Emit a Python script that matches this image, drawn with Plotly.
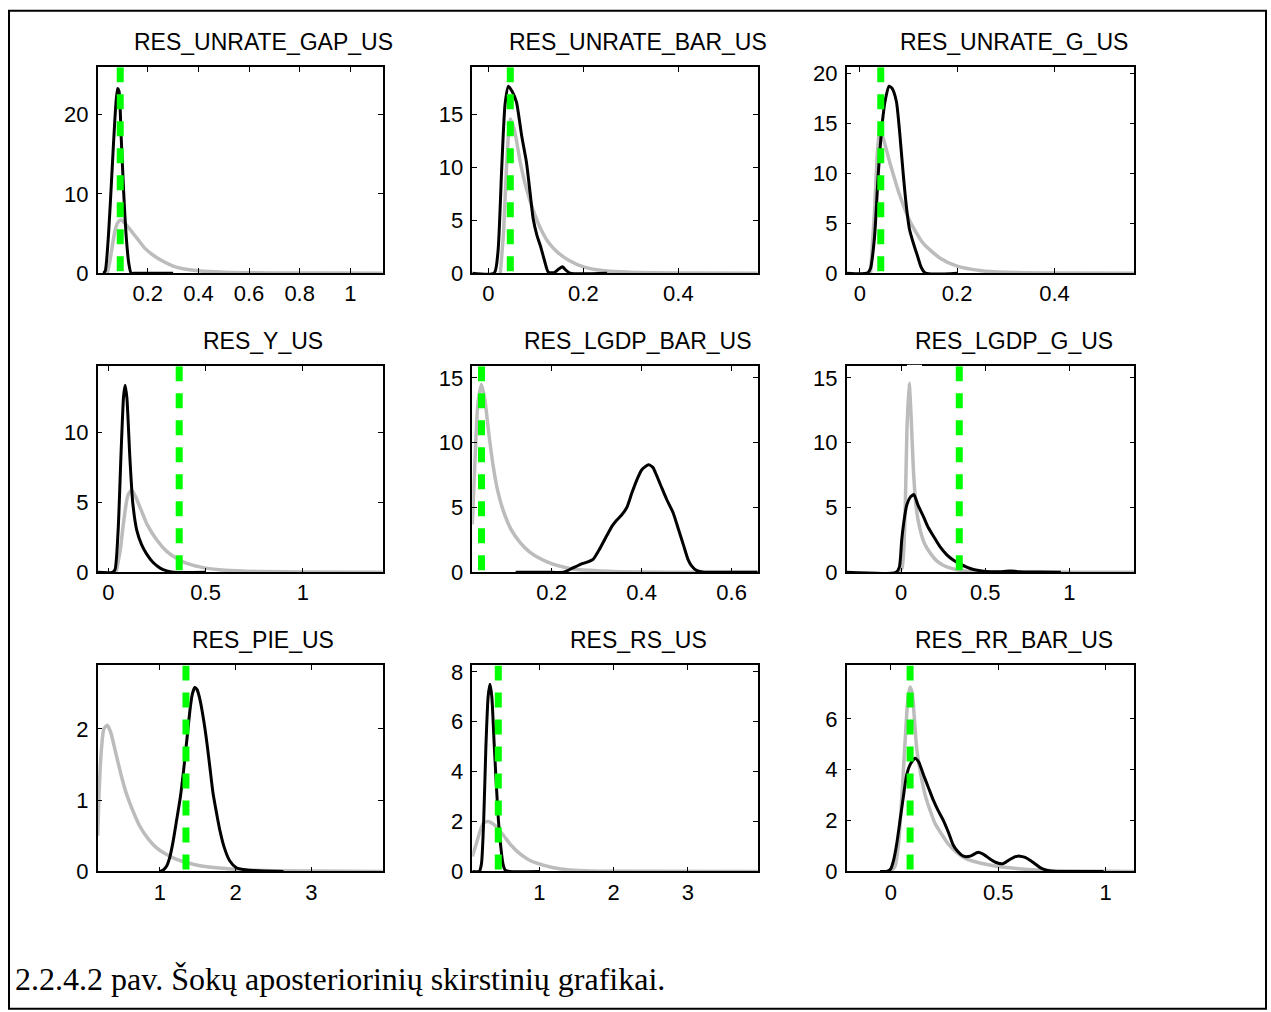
import plotly.graph_objects as go

W, H = 1271, 1030

titles = ["RES_UNRATE_GAP_US", "RES_UNRATE_BAR_US", "RES_UNRATE_G_US",
          "RES_Y_US", "RES_LGDP_BAR_US", "RES_LGDP_G_US",
          "RES_PIE_US", "RES_RS_US", "RES_RR_BAR_US"]

# axis ranges
x_ranges = [[0.002, 1.128], [-0.034, 0.567], [-0.027, 0.564],
            [-0.055, 1.41], [0.0236, 0.658], [-0.323, 1.386],
            [0.178, 3.94], [0.097, 3.94], [-0.205, 1.133]]
y_ranges = [[0, 26.0], [0, 19.5], [0, 20.6],
            [0, 14.75], [0, 15.9], [0, 15.9],
            [0, 2.89], [0, 8.26], [0, 8.1]]

# tick values
x_ticks = [[0.2, 0.4, 0.6, 0.8, 1], [0, 0.2, 0.4], [0, 0.2, 0.4],
           [0, 0.5, 1], [0.2, 0.4, 0.6], [0, 0.5, 1],
           [1, 2, 3], [1, 2, 3], [0, 0.5, 1]]
x_ticklabels = [["0.2", "0.4", "0.6", "0.8", "1"], ["0", "0.2", "0.4"], ["0", "0.2", "0.4"],
                ["0", "0.5", "1"], ["0.2", "0.4", "0.6"], ["0", "0.5", "1"],
                ["1", "2", "3"], ["1", "2", "3"], ["0", "0.5", "1"]]
y_ticks = [[0, 10, 20], [0, 5, 10, 15], [0, 5, 10, 15, 20],
           [0, 5, 10], [0, 5, 10, 15], [0, 5, 10, 15],
           [0, 1, 2], [0, 2, 4, 6, 8], [0, 2, 4, 6]]

# prior densities (grey)
prior_x = [
    [0.04, 0.05, 0.06, 0.07, 0.08, 0.09, 0.10, 0.12, 0.14, 0.16, 0.19, 0.22, 0.26, 0.30, 0.34, 0.40, 0.50, 0.70, 0.90, 1.128],
    [0.025, 0.032, 0.038, 0.046, 0.055, 0.067, 0.08, 0.094, 0.11, 0.125, 0.145, 0.17, 0.2, 0.24, 0.3, 0.4, 0.567],
    [0.022, 0.03, 0.036, 0.041, 0.048, 0.062, 0.082, 0.103, 0.13, 0.165, 0.2, 0.25, 0.3, 0.4, 0.564],
    [0.04, 0.06, 0.08, 0.1, 0.12, 0.14, 0.17, 0.2, 0.25, 0.3, 0.35, 0.4, 0.5, 0.6, 0.8, 1.0, 1.41],
    [0.0236, 0.03, 0.036, 0.044, 0.052, 0.06, 0.07, 0.08, 0.092, 0.11, 0.13, 0.15, 0.167, 0.19, 0.21, 0.24, 0.28, 0.35, 0.45, 0.658],
    [-0.02, 0.005, 0.015, 0.025, 0.035, 0.048, 0.06, 0.073, 0.09, 0.113, 0.14, 0.172, 0.21, 0.25, 0.3, 0.35, 0.45, 0.6, 1.386],
    [0.178, 0.2, 0.23, 0.26, 0.305, 0.35, 0.43, 0.5, 0.56, 0.65, 0.736, 0.85, 0.956, 1.1, 1.22, 1.4, 1.53, 1.75, 1.97, 2.5, 3.94],
    [0.097, 0.15, 0.2, 0.25, 0.313, 0.4, 0.515, 0.62, 0.74, 0.85, 0.965, 1.19, 1.41, 1.7, 2.2, 3.94],
    [0.0, 0.02, 0.035, 0.047, 0.059, 0.07, 0.08, 0.09, 0.1, 0.11, 0.121, 0.14, 0.16, 0.183, 0.205, 0.23, 0.27, 0.307, 0.35, 0.384, 0.46, 0.54, 0.7, 0.85, 1.133],
]
prior_y = [
    [0.0, 1.5, 3.5, 5.3, 6.3, 6.7, 6.6, 5.9, 5.1, 4.3, 3.1, 2.3, 1.5, 0.9, 0.55, 0.3, 0.12, 0.03, 0.01, 0.0],
    [0, 4, 10, 14.6, 13.5, 10.5, 8, 6, 4.2, 3, 2, 1.2, 0.6, 0.25, 0.08, 0.02, 0],
    [0, 6, 12, 14.3, 13.5, 11, 7.8, 5.2, 3, 1.5, 0.7, 0.25, 0.1, 0.02, 0],
    [0, 1.5, 3.8, 5.5, 5.9, 5.4, 4.4, 3.4, 2.3, 1.5, 1.0, 0.65, 0.3, 0.15, 0.05, 0.02, 0],
    [3.7, 9, 13, 14.5, 13.2, 10.8, 8.2, 6.3, 4.8, 3.3, 2.3, 1.6, 1.2, 0.8, 0.55, 0.3, 0.15, 0.05, 0.01, 0],
    [0, 0.3, 1.5, 5, 11, 14.6, 12, 8, 5, 3.3, 2.2, 1.5, 0.9, 0.55, 0.3, 0.15, 0.05, 0.01, 0],
    [0.5, 1.2, 1.75, 2.0, 2.05, 1.95, 1.6, 1.3, 1.08, 0.83, 0.63, 0.45, 0.33, 0.23, 0.17, 0.11, 0.08, 0.05, 0.03, 0.01, 0],
    [0.6, 1.1, 1.6, 1.95, 2.0, 1.85, 1.45, 1.05, 0.7, 0.48, 0.33, 0.15, 0.06, 0.02, 0.01, 0],
    [0, 0.2, 1.0, 2.3, 4.0, 5.6, 6.8, 7.25, 7.0, 6.0, 4.8, 3.8, 3.0, 2.4, 1.9, 1.55, 1.05, 0.75, 0.5, 0.4, 0.25, 0.15, 0.05, 0.02, 0],
]

# posterior densities (black)
post_x = [
    [0.025, 0.032, 0.045, 0.058, 0.07, 0.08, 0.086, 0.095, 0.105, 0.115, 0.125, 0.134, 0.15, 0.3],
    [-0.034, 0.012, 0.02, 0.028, 0.035, 0.042, 0.05, 0.059, 0.07, 0.08, 0.088, 0.094, 0.102, 0.11, 0.118, 0.126, 0.138, 0.148, 0.156, 0.163, 0.172, 0.25],
    [-0.027, 0.015, 0.022, 0.03, 0.038, 0.046, 0.053, 0.06, 0.066, 0.075, 0.082, 0.089, 0.096, 0.102, 0.11, 0.118, 0.126, 0.135, 0.2],
    [-0.055, 0.02, 0.034, 0.05, 0.065, 0.078, 0.086, 0.095, 0.11, 0.125, 0.146, 0.17, 0.197, 0.23, 0.266, 0.3, 0.335, 0.5],
    [0.12, 0.2, 0.226, 0.245, 0.263, 0.28, 0.292, 0.305, 0.322, 0.335, 0.344, 0.355, 0.367, 0.378, 0.389, 0.4, 0.415, 0.425, 0.433, 0.445, 0.456, 0.47, 0.482, 0.493, 0.503, 0.511, 0.522, 0.535, 0.55, 0.658],
    [-0.323, -0.03, -0.01, 0.004, 0.02, 0.034, 0.055, 0.077, 0.1, 0.133, 0.16, 0.192, 0.23, 0.272, 0.31, 0.35, 0.39, 0.43, 0.48, 0.53, 0.6, 0.65, 0.7, 0.83, 0.95],
    [1.0, 1.044, 1.09, 1.13, 1.17, 1.22, 1.27, 1.31, 1.36, 1.4, 1.43, 1.46, 1.49, 1.53, 1.58, 1.62, 1.66, 1.7, 1.75, 1.79, 1.85, 1.92, 2.01, 2.15, 2.3, 2.63],
    [0.097, 0.19, 0.22, 0.25, 0.28, 0.31, 0.335, 0.36, 0.39, 0.42, 0.45, 0.48, 0.51, 0.54, 0.6, 1.0],
    [-0.05, -0.019, 0.0, 0.012, 0.028, 0.043, 0.058, 0.074, 0.09, 0.113, 0.13, 0.152, 0.175, 0.198, 0.22, 0.245, 0.27, 0.29, 0.31, 0.338, 0.37, 0.407, 0.435, 0.46, 0.49, 0.52, 0.55, 0.58, 0.6, 0.625, 0.663, 0.695, 0.725, 0.77, 0.99],
]
post_y = [
    [0, 0.3, 5, 12.5, 19.5, 23.3, 23, 17, 10, 4.5, 1.2, 0, 0, 0],
    [0, 0, 2, 10, 16, 17.7, 17.2, 16.2, 13, 10.5, 7.5, 5.2, 3.6, 2.5, 1.2, 0.1, 0.05, 0.4, 0.6, 0.3, 0, 0],
    [0, 0, 0.5, 3.5, 10, 15, 17.5, 18.7, 18.5, 17.2, 14, 10, 6.5, 4.4, 3, 1.8, 0.6, 0, 0],
    [0, 0, 0.2, 3, 8.5, 12.6, 13.4, 12.5, 8.3, 5, 3, 2, 1.3, 0.7, 0.3, 0.1, 0, 0],
    [0, 0, 0, 0.3, 0.6, 0.8, 1.0, 1.7, 2.8, 3.6, 4.0, 4.4, 5.0, 6.1, 7.1, 7.9, 8.3, 8.1, 7.5, 6.5, 5.6, 4.6, 3.3, 2.1, 1.0, 0.5, 0.15, 0.03, 0, 0],
    [0, 0, 0.4, 2.5, 4.2, 5.2, 5.8, 6.0, 5.2, 4.3, 3.5, 2.8, 2.0, 1.35, 0.95, 0.65, 0.4, 0.22, 0.1, 0.05, 0.05, 0.1, 0.05, 0.02, 0],
    [0, 0.02, 0.08, 0.2, 0.4, 0.72, 1.05, 1.4, 1.9, 2.3, 2.5, 2.58, 2.55, 2.4, 2.1, 1.8, 1.45, 1.1, 0.8, 0.58, 0.33, 0.15, 0.05, 0.02, 0.01, 0],
    [0, 0, 0.3, 2, 5, 7, 7.5, 7.0, 5.2, 3.5, 2.0, 1.0, 0.3, 0.05, 0, 0],
    [0, 0, 0.1, 0.4, 1.1, 2.0, 2.9, 3.8, 4.2, 4.45, 4.3, 3.8, 3.3, 2.8, 2.4, 2.0, 1.5, 1.05, 0.8, 0.6, 0.6, 0.75, 0.65, 0.5, 0.35, 0.3, 0.45, 0.58, 0.6, 0.55, 0.35, 0.15, 0.05, 0, 0],
]

# posterior mode (green dashed)
mode_x = [0.091, 0.046, 0.043, 0.364, 0.044, 0.346, 1.343, 0.447, 0.09]

caption = "2.2.4.2 pav. Šokų aposteriorinių skirstinių grafikai."


def ty(y):
    # target image row -> figure pixel row (compensates for capture scaling)
    return (y - 4.3) / 0.9845


def py(y):
    return 1 - ty(y) / H


# layout geometry (target pixels)
col_px = [(97.7, 382.7), (472.3, 757.7), (846.7, 1134.3)]
row_px = [(65.7, 272.3), (365.7, 572.3), (665.7, 872.3)]

SANS = "Arial, Liberation Sans, sans-serif"
fig = go.Figure()
layout = dict(width=W, height=H, margin=dict(l=0, r=0, t=0, b=0),
              paper_bgcolor="white", plot_bgcolor="white", showlegend=False)
annotations = []

for i in range(9):
    r, c = divmod(i, 3)
    n = i + 1
    xa = "x" if n == 1 else f"x{n}"
    ya = "y" if n == 1 else f"y{n}"
    x0, x1 = col_px[c]
    top, bot = row_px[r]
    common = dict(showline=True, linecolor="black", linewidth=1.5, mirror="ticks",
                  ticks="inside", ticklen=5, tickwidth=1, tickcolor="black",
                  showgrid=False, zeroline=False,
                  tickfont=dict(family=SANS, size=22, color="black"))
    layout["xaxis" if n == 1 else f"xaxis{n}"] = dict(
        domain=[x0 / W, x1 / W], range=x_ranges[i], anchor=ya,
        tickvals=x_ticks[i], ticktext=x_ticklabels[i], ticklabelstandoff=0, **common)
    layout["yaxis" if n == 1 else f"yaxis{n}"] = dict(
        domain=[py(bot), py(top)], range=y_ranges[i], anchor=xa,
        tickvals=y_ticks[i], ticklabelstandoff=3, **common)

    fig.add_trace(go.Scatter(x=prior_x[i], y=prior_y[i], mode="lines", xaxis=xa, yaxis=ya,
                             line=dict(color="rgb(188,188,188)", width=3.5, shape="spline", smoothing=0.6)))
    fig.add_trace(go.Scatter(x=post_x[i], y=post_y[i], mode="lines", xaxis=xa, yaxis=ya,
                             line=dict(color="black", width=3, shape="spline", smoothing=0.6)))
    fig.add_trace(go.Scatter(x=[mode_x[i], mode_x[i]], y=[y_ranges[i][1], 0], mode="lines",
                             xaxis=xa, yaxis=ya,
                             line=dict(color="#00FF00", width=7, dash="15px,12px")))

    annotations.append(dict(text=titles[i], xref="paper", yref="paper",
                            x=((x0 + x1) / 2 + 23) / W, y=py(top - 25),
                            xanchor="center", yanchor="middle", showarrow=False,
                            font=dict(family=SANS, size=23, color="black")))

annotations.append(dict(text=caption, xref="paper", yref="paper",
                        x=13 / W, y=py(980), xanchor="left", yanchor="middle",
                        showarrow=False,
                        font=dict(family="Times New Roman, Liberation Serif, serif", size=32, color="black")))
layout["annotations"] = annotations
layout["shapes"] = [
    dict(type="rect", xref="paper", yref="paper",
         x0=9 / W, x1=1266 / W, y0=py(1010), y1=py(9),
         line=dict(color="black", width=2), fillcolor="rgba(0,0,0,0)"),
    # small white gap in the top frame of the RES_LGDP_G_US panel (as in the source image)
    dict(type="line", xref="paper", yref="paper",
         x0=907 / W, x1=922 / W, y0=py(365.7), y1=py(365.7),
         line=dict(color="white", width=3), layer="above"),
]
fig.update_layout(**layout)

post_js = (
    "document.documentElement.style.margin='0';document.documentElement.style.padding='0';"
    "document.documentElement.style.overflow='hidden';"
    "document.body.style.margin='0';document.body.style.padding='0';"
    "document.body.style.overflow='hidden';"
    "var gd=document.getElementById('{plot_id}');"
    "gd.style.position='fixed';gd.style.left='0px';gd.style.top='0px';"
)
fig.write_html("out.html", config={"displayModeBar": False}, post_script=post_js)
